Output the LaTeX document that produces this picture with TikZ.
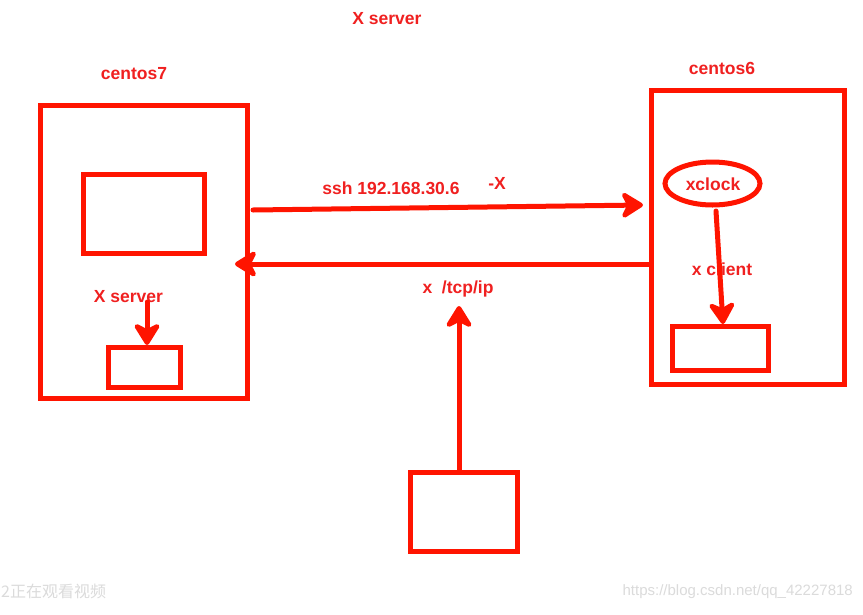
\documentclass[tikz,border=0pt]{standalone}
\usepackage{fontspec}
\setmainfont{Liberation Sans}
\newfontfamily\cjk{Noto Sans CJK SC}
\usetikzlibrary{arrows.meta,shapes.geometric}
\definecolor{pen}{RGB}{255,20,0}
\definecolor{ink}{RGB}{240,32,32}
\begin{document}
\begin{tikzpicture}[x=1pt,y=-1pt,
  box/.style={draw=pen,line width=5pt,inner sep=0pt,rectangle},
  lbl/.style={text=ink,font=\bfseries\fontsize{17.5}{19}\selectfont,inner sep=0pt},
  arr/.style={draw=pen,line width=5pt,line cap=round,-{Stealth[length=26pt,width=32pt,inset=8pt,round]}},
  wm/.style={text=gray!28,inner sep=0pt}]
\useasboundingbox (0,0) rectangle (863,614);
\fill[white] (0,0) rectangle (863,614);

% boxes
\node[box,minimum width=207pt,minimum height=293pt] (c7) at (143.5,251.5) {};
\node[box,minimum width=121pt,minimum height=79pt] (screen) at (143.5,213.5) {};
\node[box,minimum width=72pt,minimum height=40pt] (sb) at (144,367) {};
\node[box,minimum width=193pt,minimum height=294pt] (c6) at (747.5,237) {};
\node[draw=pen,line width=5pt,ellipse,inner sep=0pt,minimum width=95pt,minimum height=43pt] (xclock) at (712.5,183.5) {};
\node[box,minimum width=96pt,minimum height=44pt] (cb) at (720,348) {};
\node[box,minimum width=107pt,minimum height=79pt] (bb) at (463.5,511.5) {};

% labels
\node[lbl] (t0) at (387,19) {X server};
\node[lbl] (t1) at (134,74) {centos7};
\node[lbl] (t2) at (722,68) {centos6};
\node[lbl] (t3) at (391,188) {ssh 192.168.30.6};
\node[lbl] (t4) at (497,183) {-X};
\node[lbl] (t5) at (713,184) {xclock};
\node[lbl] (t6) at (722,269) {x client};
\node[lbl] (t7) at (128.5,297) {X server};
\node[lbl] (t8) at (458,289) {x\ \ /tcp/ip};

% connector end points
\coordinate (s1) at (253,210);
\coordinate (s2) at (643,205);
\coordinate (r1) at (651,264);
\coordinate (r2) at (235,264);
\coordinate (x1) at (147,302);
\coordinate (x2) at (147,345);
\coordinate (k1) at (716,211);
\coordinate (k2) at (723,324);
\coordinate (u1) at (459,472);
\coordinate (u2) at (459,306);

\draw[arr] (s1) -- (s2);
\draw[arr] (r1) -- (r2);
\draw[arr] (x1) -- (x2);
\draw[arr] (k1) -- (k2);
\draw[arr] (u1) -- (u2);

% watermarks
\node[wm,anchor=west,font=\cjk\fontsize{16}{18}\selectfont] (w1) at (1,591) {2正在观看视频};
\node[wm,anchor=east,font=\fontsize{15}{17}\selectfont] (w2) at (853,592) {https://blog.csdn.net/qq\_42227818};
\end{tikzpicture}
\end{document}
